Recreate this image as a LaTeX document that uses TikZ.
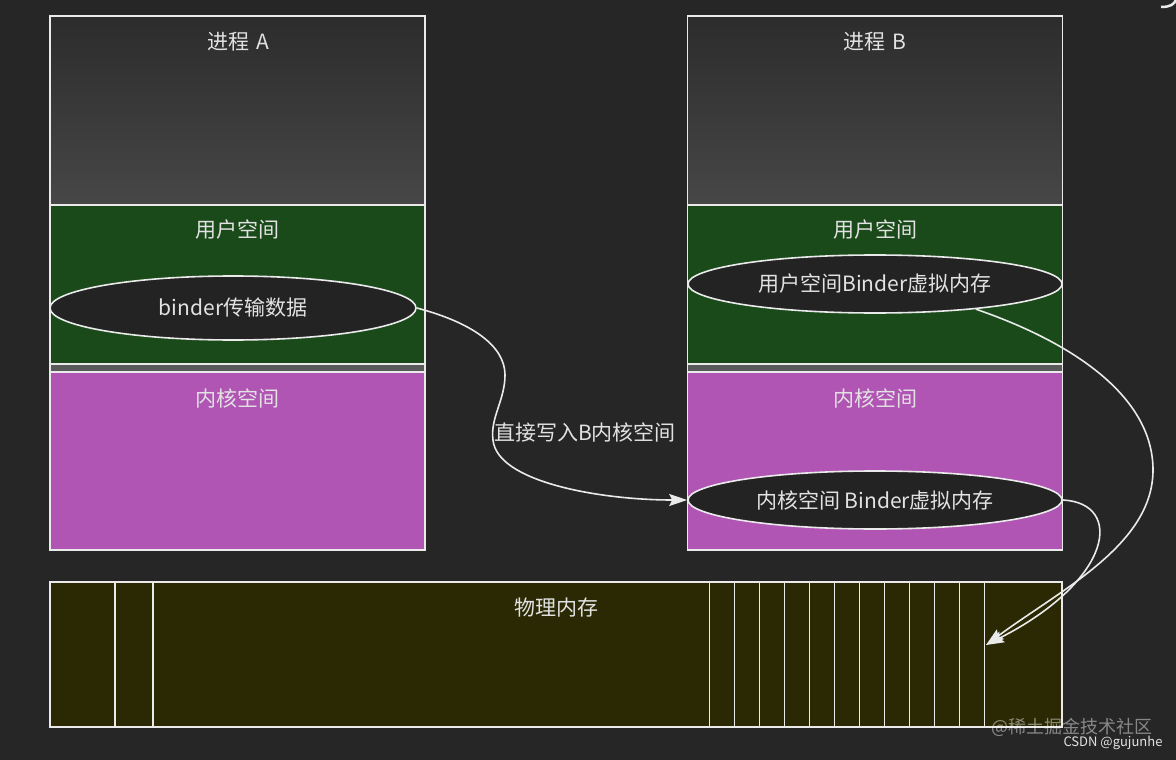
\documentclass[tikz,border=0pt]{standalone}
\usepackage{fontspec}
\setmainfont{Noto Sans CJK SC}
\usetikzlibrary{arrows.meta,shapes.geometric}
\definecolor{bg}{HTML}{262626}
\definecolor{edge}{HTML}{EAEAEA}
\definecolor{txt}{HTML}{E2E2E2}
\definecolor{topA}{HTML}{2C2C2C}
\definecolor{topB}{HTML}{474747}
\definecolor{gapc}{HTML}{5A5A5A}
\definecolor{usr}{HTML}{1A4A1A}
\definecolor{krn}{HTML}{B055B4}
\definecolor{phys}{HTML}{2A2904}
\definecolor{ellc}{HTML}{232323}
\begin{document}
\begin{tikzpicture}[x=1pt,y=-1pt,
  sec/.style={draw=edge, line width=1.6pt, rectangle, inner sep=0pt, minimum width=375pt},
  lbl/.style={text=txt, font=\fontsize{21}{25}\selectfont, inner sep=0pt},
  ell/.style={ellipse, draw=edge, fill=ellc, line width=1.6pt, inner sep=0pt, text=txt, font=\fontsize{21}{25}\selectfont},
  conn/.style={draw=edge, line width=1.6pt, -{Stealth[length=18pt,width=12pt,inset=3pt]}},
  stripe/.style={draw=edge, line width=1.6pt}]
\useasboundingbox (0,0) rectangle (1176,760);
\fill[bg] (0,0) rectangle (1176,760);
% corner artifact
\draw[edge, line width=2.5pt] (1161,7) .. controls (1171,7) and (1174,4) .. (1176,0);

% ---------- Process A ----------
\node[sec, top color=topA, bottom color=topB, minimum height=189pt] (pa) at (237.5,110.5) {};
\node[sec, fill=gapc, minimum height=8pt] (ga) at (237.5,368) {};
\node[sec, fill=usr, minimum height=159pt] (ua) at (237.5,284.5) {};
\node[sec, fill=krn, minimum height=178pt] (ka) at (237.5,461) {};
\node[lbl] (ta) at (238,42) {进程\,\,A};
\node[lbl] (tua) at (237,230) {用户空间};
\node[lbl] (tka) at (237,398) {内核空间};
\node[ell, minimum width=366pt, minimum height=64pt] (ea) at (233,308) {binder传输数据};

% ---------- Process B ----------
\node[sec, top color=topA, bottom color=topB, minimum height=189pt] (pb) at (875,110.5) {};
\node[sec, fill=gapc, minimum height=8pt] (gb) at (875,368) {};
\node[sec, fill=usr, minimum height=159pt] (ub) at (875,284.5) {};
\node[sec, fill=krn, minimum height=178pt] (kb) at (875,461) {};
\node[lbl] (tb) at (875,42) {进程\,\,B};
\node[lbl] (tub) at (875,230) {用户空间};
\node[lbl] (tkb) at (875,398) {内核空间};
\node[ell, minimum width=374pt, minimum height=58pt] (eub) at (875,284) {用户空间Binder虚拟内存};
\node[ell, minimum width=374pt, minimum height=58pt] (ekb) at (875,500) {内核空间 Binder虚拟内存};

% ---------- Physical memory ----------
\node[draw=edge, fill=phys, line width=1.6pt, rectangle, inner sep=0pt,
      minimum width=1012pt, minimum height=145pt] (pm) at (556,654.5) {};
\node[lbl] (tpm) at (556,608) {物理内存};
\foreach \x in {115,153,709.5,734.5,759.5,784.5,809.5,834.5,859.5,884.5,909.5,934.5,959.5,984.5}
  \draw[stripe] (\x,582) -- (\x,727);
\coordinate (pg) at (986,645);

% ---------- Connectors ----------
\draw[conn] (ea.east) .. controls (470,322) and (505,345) .. (505,375)
   .. controls (505,400) and (490,418) .. (493,440)
   .. controls (497,482) and (600,500) .. (ekb.west);
\node[lbl] (tw) at (585,432) {直接写入B内核空间};
\draw[conn] (eub.-14) .. controls (1080,345) and (1153,400) .. (1153,470)
   .. controls (1153,545) and (1060,590) .. (pg);
\draw[conn] (ekb.east) .. controls (1124,503) and (1114,580) .. (pg);

% ---------- Watermark ----------
\node[text=white, opacity=0.45, font=\fontsize{18}{20}\selectfont, inner sep=0pt] (wm) at (1072,727) {@稀土掘金技术社区};
\node[text=txt, font=\fontsize{13}{15}\selectfont, inner sep=0pt] (wc) at (1113,743) {CSDN @gujunhe};
\end{tikzpicture}
\end{document}
